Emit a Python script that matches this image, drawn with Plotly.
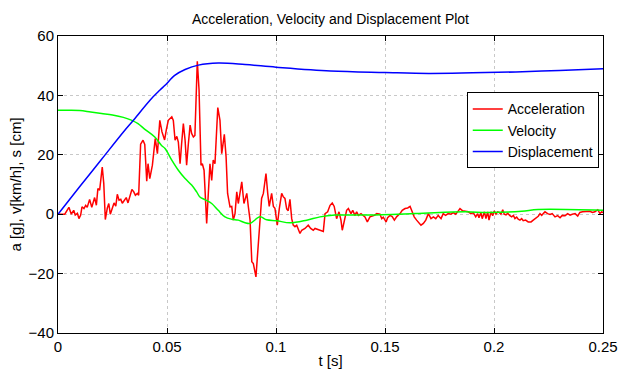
import plotly.graph_objects as go

# Acceleration [g]
t_acc = [0, 0.0031, 0.0050, 0.0061, 0.0072, 0.0079, 0.0089, 0.0096, 0.0104, 0.0110,
         0.0119, 0.0127, 0.0134, 0.0145, 0.0155, 0.0168, 0.0176, 0.0183, 0.0191, 0.0203,
         0.0210, 0.0217, 0.0226, 0.0233, 0.0240, 0.0249, 0.0257, 0.0265, 0.0272, 0.0280,
         0.0288, 0.0295, 0.0303, 0.0313, 0.0321, 0.0329, 0.0339, 0.0347, 0.0355, 0.0364,
         0.0370, 0.0379, 0.0390, 0.0398, 0.0407, 0.0413, 0.0421, 0.0433, 0.0446, 0.0456,
         0.0467, 0.0477, 0.0489, 0.0497, 0.0506, 0.0522, 0.0529, 0.0537, 0.0545, 0.0552,
         0.0560, 0.0567, 0.0575, 0.0583, 0.0590, 0.0598, 0.0606, 0.0613, 0.0621, 0.0628,
         0.0639, 0.0647, 0.0656, 0.0662, 0.0670, 0.0682, 0.0689, 0.0697, 0.0705, 0.0712,
         0.0720, 0.0733, 0.0743, 0.0751, 0.0763, 0.0771, 0.0778, 0.0789, 0.0797, 0.0804,
         0.0812, 0.0820, 0.0827, 0.0843, 0.0853, 0.0866, 0.0873, 0.0881, 0.0889, 0.0896,
         0.0908, 0.0919, 0.0927, 0.0934, 0.0942, 0.0954, 0.0962, 0.0969, 0.0980, 0.0988,
         0.0995, 0.1006, 0.1015, 0.1026, 0.1033, 0.1041, 0.1049, 0.1056, 0.1064, 0.1072,
         0.1079, 0.1087, 0.1095, 0.1102, 0.1110, 0.1118, 0.1133, 0.1148, 0.1159, 0.1171,
         0.1179, 0.1202, 0.1217, 0.1225, 0.1237, 0.1248, 0.1258, 0.1267, 0.1278, 0.1289,
         0.1298, 0.1304, 0.1313, 0.1324, 0.1332, 0.1344, 0.1352, 0.1362, 0.1370, 0.1378,
         0.1390, 0.1408, 0.1419, 0.1431, 0.1451, 0.1462, 0.1477, 0.1485, 0.1492, 0.1505,
         0.1512, 0.1523, 0.1533, 0.1543, 0.1554, 0.1569, 0.1579, 0.1592, 0.1604, 0.1615,
         0.1622, 0.1634, 0.1645, 0.1656, 0.1665, 0.1676, 0.1687, 0.1699, 0.1711, 0.1722,
         0.1733, 0.1744, 0.1757, 0.1767, 0.1778, 0.1790, 0.1803, 0.1813, 0.1824, 0.1833,
         0.1844, 0.1855, 0.1867, 0.1882, 0.1894, 0.1905, 0.1916, 0.1925, 0.1931, 0.1940,
         0.1946, 0.1956, 0.1963, 0.1971, 0.1977, 0.1986, 0.1994, 0.2001, 0.2009, 0.2017,
         0.2024, 0.2032, 0.2040, 0.2047, 0.2055, 0.2063, 0.2073, 0.2081, 0.2089, 0.2096,
         0.2104, 0.2111, 0.2119, 0.2127, 0.2134, 0.2145, 0.2157, 0.2170, 0.2180, 0.2191,
         0.2203, 0.2211, 0.2219, 0.2226, 0.2234, 0.2246, 0.2257, 0.2267, 0.2280, 0.2292,
         0.2303, 0.2313, 0.2326, 0.2338, 0.2349, 0.2359, 0.2372, 0.2384, 0.2394, 0.2406,
         0.2425, 0.2440, 0.2451, 0.2463, 0.2476, 0.2486, 0.2494, 0.2500]
acc = [0, 0, 2.3, 0, 1.3, -0.3, 0.3, -1.5, -0.3, 2.5,
       1.9, 3.0, 2.3, 5.0, 2.3, 5.6, 3.0, 8.6, 8.1, 15.9,
       10.3, -1.8, 2.0, 3.6, 0, 2.0, 3.8, 2.7, 6.7, 4.7,
       5.0, 3.7, 4.7, 5.6, 3.8, 5.6, 8.3, 7.6, 6.4, 7.0,
       6.4, 23.6, 24.9, 23.5, 11.1, 17.0, 12.0, 16.5, 25.5, 20.4,
       31.6, 27.7, 25.0, 28.5, 31.6, 32.8, 31.6, 24.9, 26.2, 24.3,
       17.0, 23.7, 30.5, 24.9, 16.5, 23.7, 30.0, 27.2, 26.0, 26.5,
       51.5, 41.8, 16.5, 17.0, 14.8, -3.1, 8.1, 17.0, 11.4, 18.2,
       17.0, 35.9, 31.6, 20.4, 26.9, 19.3, 7.0, 2.5, 2.6, -2.0,
       0.2, 7.5, 3.6, 10.9, 3.6, 7.0, 2.6, -2.0, -16.0, -16.6,
       -21.1, -8.8, 0.2, 5.3, 7.0, 13.7, 7.0, 2.6, 7.0, 2.6,
       2.0, -3.7, 1.8, 7.0, 5.9, 5.3, 1.8, 1.2, 5.0, -1.5,
       -3.7, -4.2, -3.7, -4.8, -6.5, -5.4, -4.8, -3.7, -4.8, -5.4,
       -4.8, -5.4, -5.8, 0.2, 0.8, 3.0, 3.8, 2.6, -1.5, 0.8,
       -2.0, -5.4, -2.0, 1.3, 1.9, 0.2, 1.3, -0.4, 0.8, -0.4,
       0.2, -0.9, -2.6, -0.9, -0.4, 0.2, 0, -1.5, -1.0, -2.6,
       -1.2, -0.4, -0.8, -2.0, -0.8, 0.2, 1.3, 1.9, 2.1, 2.6,
       1.3, -0.9, -2.0, -3.1, -3.7, -3.1, -2.0, 0.2, -1.5, -0.9,
       -1.5, -0.4, -1.5, 0.2, -0.4, 0.2, 0, 0.5, 0, 0.8,
       1.9, 1.2, 1.0, 0.8, 0.2, 0.5, -0.9, 0.2, -1.2, 0.5,
       -1.5, 0.8, -1.5, 0.8, -2.0, 0.8, -0.5, 1.1, 0, 0.8,
       0.6, 0, 1.5, 0, -0.2, 0.3, -0.5, -0.9, -0.4, -1.5,
       -1.0, -1.7, -2.0, -1.5, -2.2, -2.0, -2.6, -2.6, -2.0, -1.5,
       -0.7, 0.2, -0.4, 0.2, 0.8, 0.2, -0.1, 0.2, -0.9, -0.5,
       -1.2, -0.4, -0.5, 0.2, -0.3, 0, 0.2, -0.6, 0.6, 0.8,
       0.8, 1.0, 0.6, 0.8, 1.5, 0.2, 0.8, 0.5]

# Velocity [km/h]
t_vel = [0, 0.005, 0.010, 0.015, 0.020, 0.025, 0.030, 0.0339, 0.0367, 0.0400,
         0.0444, 0.0474, 0.0491, 0.0522, 0.0552, 0.0583, 0.0613, 0.0636, 0.0651, 0.0674,
         0.0705, 0.0735, 0.0766, 0.0797, 0.0827, 0.0858, 0.0881, 0.0927, 0.0957, 0.1003,
         0.1064, 0.1141, 0.1202, 0.1271, 0.1408, 0.1638, 0.1867, 0.1972, 0.2127, 0.2202,
         0.2500]
vel = [35.0, 35.0, 34.9, 34.4, 33.9, 33.4, 32.6, 31.6, 30.5, 28.5,
       26.0, 23.2, 22.1, 18.2, 14.8, 12.0, 9.8, 7.5, 5.8, 4.9,
       3.6, 1.3, -0.9, -1.7, -2.0, -2.9, -3.1, -0.9, -1.9, -2.2,
       -2.9, -2.0, -0.9, -0.3, -0.3, 0.2, 0.8, 0.6, 1.0, 1.6,
       1.3]

# Displacement [cm]
t_dis = [0, 0.010, 0.020, 0.030, 0.035, 0.0422, 0.0468, 0.0491, 0.0537, 0.0583,
         0.0644, 0.0735, 0.0858, 0.100, 0.125, 0.150, 0.170, 0.190, 0.210, 0.230,
         0.250]
dis = [0, 9.3, 18.5, 27.7, 32.0, 38.4, 41.8, 43.4, 46.8, 48.7,
       50.2, 50.9, 50.4, 49.5, 48.2, 47.7, 47.4, 47.6, 47.9, 48.4,
       49.0]

x_ticks = [0, 0.05, 0.1, 0.15, 0.2, 0.25]
x_ticktext = ["0", "0.05", "0.1", "0.15", "0.2", "0.25"]
y_ticks = [-40, -20, 0, 20, 40, 60]

FONT = "Liberation Sans, Arial, Helvetica, sans-serif"

fig = go.Figure()
fig.add_trace(go.Scatter(x=t_acc, y=acc, mode="lines", name="Acceleration",
                         line=dict(color="#ff0000", width=1.5)))
fig.add_trace(go.Scatter(x=t_vel, y=vel, mode="lines", name="Velocity",
                         line=dict(color="#00ff00", width=1.5, shape="spline")))
fig.add_trace(go.Scatter(x=t_dis, y=dis, mode="lines", name="Displacement",
                         line=dict(color="#0000ff", width=1.5, shape="spline")))

axis_common = dict(showline=True, linecolor="black", linewidth=1, mirror="ticks",
                   ticks="inside", ticklen=5, tickcolor="black", automargin=False,
                   showgrid=True, gridcolor="#c8c8c8", griddash="dot", gridwidth=1,
                   zeroline=False, tickfont=dict(family=FONT, size=15, color="black"))

W, H = 621, 369
fig.update_layout(
    width=W, height=H,
    margin=dict(l=58, r=18, t=36, b=36, autoexpand=False),
    paper_bgcolor="white", plot_bgcolor="white",
    title=dict(text="Acceleration, Velocity and Displacement Plot",
               x=(58 + (W - 18)) / 2 / W, xanchor="center", y=1 - 19 / H, yanchor="middle",
               font=dict(family=FONT, size=14, color="black")),
    xaxis=dict(range=[0, 0.25], tickvals=x_ticks, ticktext=x_ticktext,
               title=dict(text="t [s]", font=dict(family=FONT, size=15, color="black"),
                          standoff=1),
               **axis_common),
    yaxis=dict(range=[-40, 60], tickvals=y_ticks,
               title=dict(text="a [g], v[km/h], s [cm]",
                          font=dict(family=FONT, size=15, color="black"), standoff=3),
               **axis_common),
    legend=dict(x=0.75, y=0.81, xanchor="left", yanchor="top",
                bgcolor="white", bordercolor="black", borderwidth=1,
                font=dict(family=FONT, size=14, color="black"),
                tracegroupgap=0, itemwidth=30),
    showlegend=True,
)

fig.write_html("out.html",
               config={"displayModeBar": False},
               post_script="document.body.style.margin='0';"
                           "document.documentElement.style.overflow='hidden';")
